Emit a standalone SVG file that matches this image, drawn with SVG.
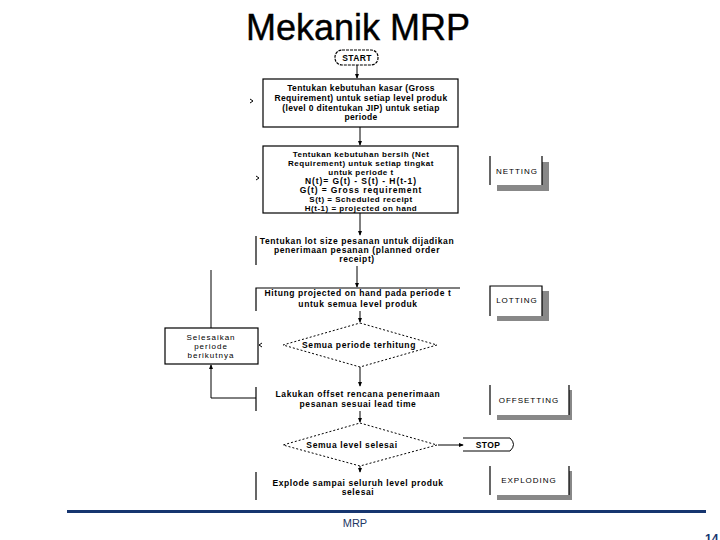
<svg xmlns="http://www.w3.org/2000/svg" width="720" height="540" viewBox="0 0 720 540">
<defs>
<marker id="ah" viewBox="0 0 6 6" refX="5" refY="3" markerWidth="5" markerHeight="5" orient="auto">
<path d="M0,0.5 L6,3 L0,5.5 Z" fill="#000"/>
</marker>
<style>
.t{font-family:"Liberation Sans",Arial,sans-serif;font-size:8.5px;font-weight:bold;fill:#000;text-anchor:middle;letter-spacing:0.35px}
.t8{font-family:"Liberation Sans",Arial,sans-serif;font-size:8px;font-weight:bold;fill:#000;text-anchor:middle;letter-spacing:0.5px}
.tw{font-family:"Liberation Sans",Arial,sans-serif;font-size:8.5px;font-weight:bold;fill:#000;text-anchor:middle;letter-spacing:0.6px}
.tb{font-family:"Liberation Sans",Arial,sans-serif;font-size:8.5px;font-weight:bold;fill:#000;text-anchor:middle;letter-spacing:0.9px}
.lab{font-family:"Liberation Sans",Arial,sans-serif;font-size:8px;fill:#000;text-anchor:middle;letter-spacing:1px}
.box{fill:#fff;stroke:#000;stroke-width:1.2}
.edge{fill:none;stroke:#000;stroke-width:1.2}
.dia{fill:#fff;stroke:#000;stroke-width:1;stroke-dasharray:2,2}
.sh{fill:#888}
.c{fill:none;stroke:#000;stroke-width:1}
</style>
</defs>
<rect width="720" height="540" fill="#fff"/>
<text x="358" y="40" font-family="'Liberation Sans',Arial,sans-serif" font-size="36" text-anchor="middle" fill="#000" stroke="#000" stroke-width="0.4">Mekanik MRP</text>

<g id="connectors">
<line class="c" x1="357" y1="65" x2="357" y2="78" marker-end="url(#ah)"/>
<line class="c" x1="360" y1="127" x2="360" y2="145" marker-end="url(#ah)"/>
<line class="c" x1="360" y1="213" x2="360" y2="235" marker-end="url(#ah)"/>
<line class="c" x1="357" y1="266" x2="357" y2="287" marker-end="url(#ah)"/>
<line class="c" x1="360" y1="311" x2="360" y2="322" marker-end="url(#ah)"/>
<line class="c" x1="360" y1="367" x2="360" y2="386" marker-end="url(#ah)"/>
<line class="c" x1="360" y1="411" x2="360" y2="422" marker-end="url(#ah)"/>
<line class="c" x1="360" y1="466" x2="360" y2="472" marker-end="url(#ah)"/>
<line class="c" x1="438" y1="445" x2="463" y2="445" marker-end="url(#ah)"/>
<polyline class="c" points="256,398 211,398 211,365" marker-end="url(#ah)"/>
<line class="c" x1="211" y1="270" x2="211" y2="328"/>
<path d="M250,99 L253,101 L250,103" class="c"/>
<path d="M256,176 L259,178 L256,180" class="c"/>
<path d="M262,343 L259,345 L262,347" class="c"/>
</g>

<g id="start">
<rect x="335" y="50" width="43" height="15" rx="7" class="box" stroke-dasharray="3,1"/>
<text x="357" y="61" class="t">START</text>
</g>

<g id="gross">
<rect x="263" y="79" width="195" height="48" class="box"/>
<text x="361" y="91" class="t">Tentukan kebutuhan kasar (Gross</text>
<text x="361" y="101" class="t">Requirement) untuk setiap level produk</text>
<text x="361" y="111" class="t">(level 0 ditentukan JIP) untuk setiap</text>
<text x="361" y="120" class="t">periode</text>
</g>

<g id="net">
<rect x="263" y="146" width="195" height="67" class="box"/>
<text x="361" y="157" class="t8">Tentukan kebutuhan bersih (Net</text>
<text x="361" y="166" class="t8">Requirement) untuk setiap tingkat</text>
<text x="361" y="175" class="t8">untuk periode t</text>
<text x="361" y="184" class="tb">N(t)= G(t) - S(t) - H(t-1)</text>
<text x="361" y="193" class="tb">G(t) = Gross requirement</text>
<text x="361" y="202" class="t8">S(t) = Scheduled receipt</text>
<text x="361" y="211" class="t8">H(t-1) = projected on hand</text>
</g>

<g id="lotsize">
<line class="edge" x1="256" y1="236" x2="256" y2="265"/>
<text x="357" y="244" class="tw">Tentukan lot size pesanan untuk dijadikan</text>
<text x="357" y="253" class="tw">penerimaan pesanan (planned order</text>
<text x="357" y="262" class="tw">receipt)</text>
</g>

<g id="projected">
<polyline class="edge" points="256,311 256,288 460,288"/>
<text x="358" y="296" class="tw">Hitung projected on hand pada periode t</text>
<text x="358" y="307" class="tw">untuk semua level produk</text>
</g>

<g id="next">
<rect x="165" y="328" width="93" height="36" class="box"/>
<text x="211" y="340" class="lab">Selesaikan</text>
<text x="211" y="349" class="lab">periode</text>
<text x="211" y="358" class="lab">berikutnya</text>
</g>

<g id="dperiod">
<polygon points="360,323 437,345 360,367 283,345" class="dia"/>
<text x="359" y="348" class="tw">Semua periode terhitung</text>
</g>

<g id="offset">
<line class="edge" x1="256" y1="387" x2="256" y2="411"/>
<text x="358" y="397" class="tw">Lakukan offset rencana penerimaan</text>
<text x="358" y="407" class="tw">pesanan sesuai lead time</text>
</g>

<g id="dlevel">
<polygon points="360,423 437,445 360,466 283,445" class="dia"/>
<text x="352" y="448" class="tw">Semua level selesai</text>
</g>

<g id="stop">
<path d="M463,438 L510,438 Q517,444.5 510,451 L463,451" class="c"/>
<text x="488" y="448" class="t">STOP</text>
</g>

<g id="explode">
<line class="edge" x1="256" y1="472" x2="256" y2="500"/>
<text x="358" y="486" class="tw">Explode sampai seluruh level produk</text>
<text x="358" y="495" class="tw">selesai</text>
</g>

<g id="netting">
<rect x="497" y="162" width="52" height="29" class="sh"/>
<rect x="490" y="156" width="52" height="29" fill="#fff"/>
<line class="edge" x1="490" y1="156" x2="490" y2="185"/>
<line class="edge" x1="542" y1="156" x2="542" y2="185"/>
<text x="517" y="174" class="lab">NETTING</text>
</g>

<g id="lotting">
<rect x="497" y="291" width="52" height="30" class="sh"/>
<rect x="490" y="286" width="52" height="30" fill="#fff"/>
<polyline class="edge" points="490,316 490,286 542,286 542,316"/>
<text x="517" y="303" class="lab">LOTTING</text>
</g>

<g id="offsetting">
<rect x="497" y="390" width="75" height="30" class="sh"/>
<rect x="490" y="385" width="79" height="30" fill="#fff"/>
<line class="edge" x1="490" y1="385" x2="490" y2="415"/>
<line class="edge" x1="569" y1="385" x2="569" y2="415"/>
<text x="529" y="403" class="lab">OFFSETTING</text>
</g>

<g id="exploding">
<rect x="497" y="471" width="75" height="29" class="sh"/>
<rect x="490" y="466" width="79" height="29" fill="#fff"/>
<line class="edge" x1="490" y1="466" x2="490" y2="495"/>
<line class="edge" x1="569" y1="466" x2="569" y2="495"/>
<text x="529" y="483" class="lab">EXPLODING</text>
</g>

<g id="footer">
<rect x="67" y="510" width="639" height="3" fill="#16356f"/>
<text x="355" y="527" font-family="'Liberation Sans',Arial,sans-serif" font-size="11" fill="#1f3864" text-anchor="middle">MRP</text>
<text x="705" y="543" font-family="'Liberation Sans',Arial,sans-serif" font-size="12" font-weight="bold" fill="#16356f">14</text>
</g>
</svg>
